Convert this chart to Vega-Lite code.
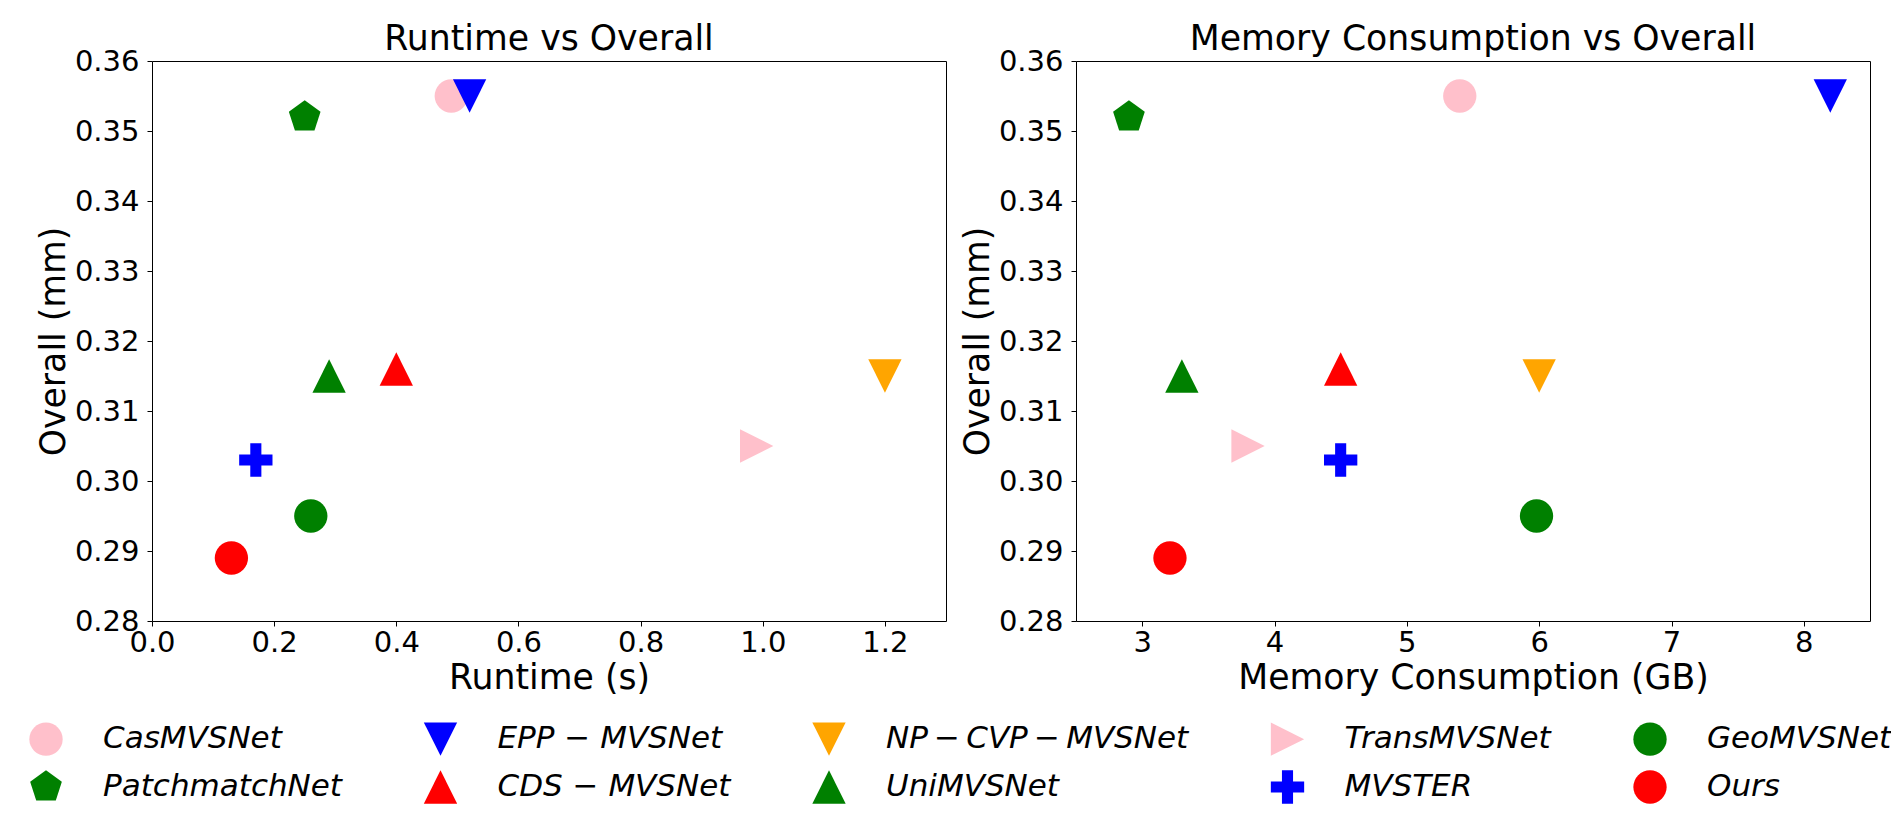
{
  "$schema": "https://vega.github.io/schema/vega-lite/v6.json",
  "padding": {"left": 29, "top": 21, "right": 0, "bottom": 0},
  "background": "white",
  "config": {
    "font": "DejaVu Sans",
    "view": {"stroke": "black", "strokeWidth": 1},
    "axis": {
      "grid": false, "domain": false, "labelFlush": false, "labelOverlap": false,
      "tickColor": "black", "tickSize": 5, "tickWidth": 1,
      "labelFont": "DejaVu Sans", "labelFontSize": 29, "labelColor": "black",
      "titleFont": "DejaVu Sans", "titleFontSize": 34.7, "titleFontWeight": "normal", "titleColor": "black"
    },
    "axisX": {"labelPadding": 2, "titlePadding": 4},
    "axisY": {"labelPadding": 8, "titlePadding": 3},
    "title": {"font": "DejaVu Sans", "fontSize": 34.7, "fontWeight": "normal", "color": "black", "baseline": "alphabetic", "offset": -11},
    "legend": {
      "orient": "none", "legendX": -123, "legendY": 661, "columns": 5, "direction": "horizontal",
      "title": null, "padding": 0, "symbolSize": 1110, "symbolStrokeWidth": 0,
      "labelFont": "DejaVu Sans", "labelFontStyle": "italic", "labelFontSize": 31, "labelColor": "black",
      "labelOffset": 40, "labelLimit": 500, "columnPadding": 81.5, "rowPadding": 14, "symbolType": "circle"
    }
  },
  "data": {
    "values": [
      {"method": "CasMVSNet", "runtime": 0.49, "memory": 5.40, "overall": 0.355},
      {"method": "EPP − MVSNet", "runtime": 0.52, "memory": 8.20, "overall": 0.355},
      {"method": "NP\u2009−\u2009CVP\u2009−\u2009MVSNet", "runtime": 1.20, "memory": 6.00, "overall": 0.315},
      {"method": "TransMVSNet", "runtime": 0.99, "memory": 3.80, "overall": 0.305},
      {"method": "GeoMVSNet", "runtime": 0.26, "memory": 5.98, "overall": 0.295},
      {"method": "PatchmatchNet", "runtime": 0.25, "memory": 2.90, "overall": 0.352},
      {"method": "CDS − MVSNet", "runtime": 0.40, "memory": 4.50, "overall": 0.316},
      {"method": "UniMVSNet", "runtime": 0.29, "memory": 3.30, "overall": 0.315},
      {"method": "MVSTER", "runtime": 0.17, "memory": 4.50, "overall": 0.303},
      {"method": "Ours", "runtime": 0.13, "memory": 3.21, "overall": 0.289}
    ]
  },
  "resolve": {"scale": {"color": "shared", "shape": "shared"}, "legend": {"color": "shared", "shape": "shared"}},
  "spacing": 12,
  "hconcat": [
    {
      "width": 794, "height": 560,
      "title": {"text": "Runtime vs Overall"},
      "mark": {"type": "point", "filled": true, "opacity": 1, "size": 1110, "strokeWidth": 0},
      "encoding": {
        "x": {"field": "runtime", "type": "quantitative",
              "scale": {"domain": [0, 1.3], "nice": false, "zero": false},
              "axis": {"title": "Runtime (s)", "values": [0, 0.2, 0.4, 0.6, 0.8, 1.0, 1.2], "format": ".1f"}},
        "y": {"field": "overall", "type": "quantitative",
              "scale": {"domain": [0.28, 0.36], "nice": false, "zero": false},
              "axis": {"title": "Overall (mm)", "values": [0.28, 0.29, 0.30, 0.31, 0.32, 0.33, 0.34, 0.35, 0.36], "format": ".2f"}},
        "color": {"field": "method", "type": "nominal",
                  "scale": {"domain": ["CasMVSNet", "EPP − MVSNet", "NP\u2009−\u2009CVP\u2009−\u2009MVSNet", "TransMVSNet", "GeoMVSNet", "PatchmatchNet", "CDS − MVSNet", "UniMVSNet", "MVSTER", "Ours"],
                            "range": ["pink", "blue", "orange", "pink", "green", "green", "red", "green", "blue", "red"]}},
        "shape": {"field": "method", "type": "nominal",
                  "scale": {"domain": ["CasMVSNet", "EPP − MVSNet", "NP\u2009−\u2009CVP\u2009−\u2009MVSNet", "TransMVSNet", "GeoMVSNet", "PatchmatchNet", "CDS − MVSNet", "UniMVSNet", "MVSTER", "Ours"],
                            "range": ["circle", "M0,1L-1,-1L1,-1Z", "M0,1L-1,-1L1,-1Z", "M1,0L-1,-1L-1,1Z", "circle", "M0,-1L0.951,-0.309L0.588,0.809L-0.588,0.809L-0.951,-0.309Z", "M0,-1L-1,1L1,1Z", "M0,-1L-1,1L1,1Z", "M-0.333,-1H0.333V-0.333H1V0.333H0.333V1H-0.333V0.333H-1V-0.333H-0.333Z", "circle"]}}
      }
    },
    {
      "width": 794, "height": 560,
      "title": {"text": "Memory Consumption vs Overall"},
      "mark": {"type": "point", "filled": true, "opacity": 1, "size": 1110, "strokeWidth": 0},
      "encoding": {
        "x": {"field": "memory", "type": "quantitative",
              "scale": {"domain": [2.5, 8.5], "nice": false, "zero": false},
              "axis": {"title": "Memory Consumption (GB)", "values": [3, 4, 5, 6, 7, 8], "format": "d"}},
        "y": {"field": "overall", "type": "quantitative",
              "scale": {"domain": [0.28, 0.36], "nice": false, "zero": false},
              "axis": {"title": "Overall (mm)", "values": [0.28, 0.29, 0.30, 0.31, 0.32, 0.33, 0.34, 0.35, 0.36], "format": ".2f"}},
        "color": {"field": "method", "type": "nominal"},
        "shape": {"field": "method", "type": "nominal"}
      }
    }
  ]
}
